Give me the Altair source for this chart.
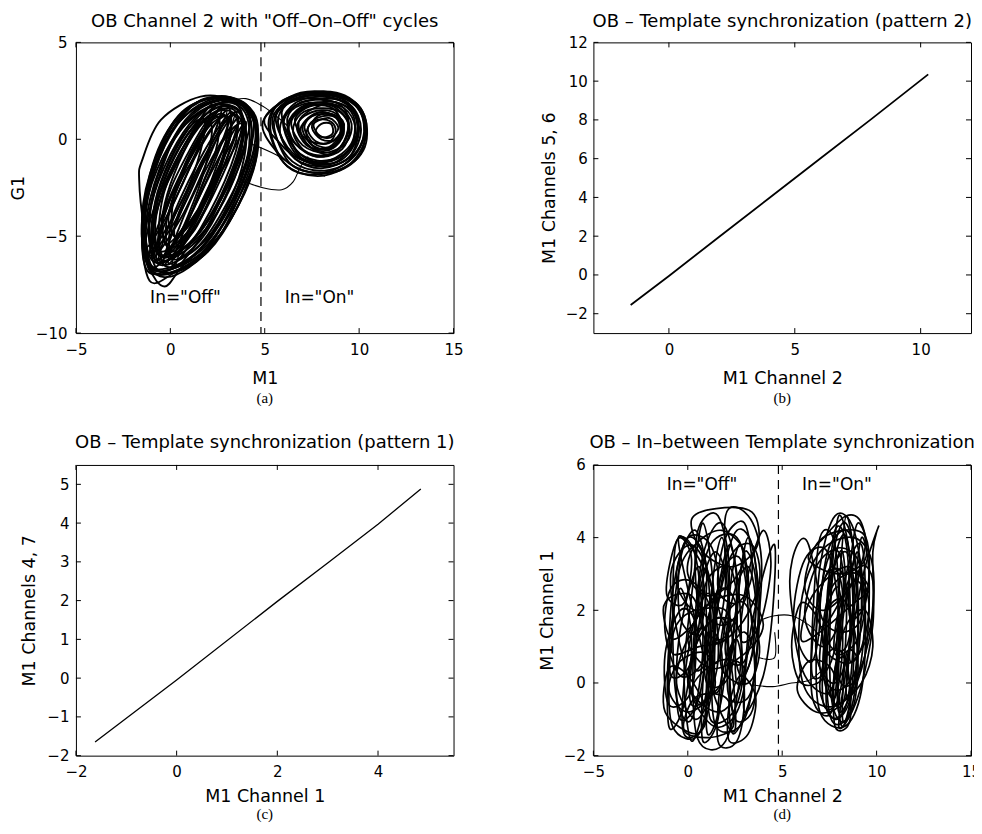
import altair as alt
import pandas as pd

FONT = "DejaVu Sans"
SERIF = "Liberation Serif"
W, H = 378, 291

# ---------------- panel (a) ----------------
A_TITLE = 'OB Channel 2 with "Off–On–Off" cycles'
A_XT = [-5, 0, 5, 10, 15]
A_YT = [-10, -5, 0, 5]
A_LEFT = [
    [(-0.6, -7.0), (1.4, -6.3), (3.2, -4.1), (4.4, -1.6), (4.6, 0.6), (3.4, 2.0), (1.2, 1.8), (-0.5, -0.2), (-1.4, -3.4), (-1.3, -6.2)],
    [(-0.4, -6.8), (1.6, -5.9), (3.3, -3.6), (4.5, -0.9), (4.3, 1.2), (3.0, 2.1), (0.9, 1.3), (-0.7, -0.9), (-1.5, -4.2), (-1.2, -6.3)],
    [(-0.8, -6.9), (1.1, -6.4), (2.9, -4.6), (4.2, -2.0), (4.6, 0.2), (3.8, 1.8), (1.8, 2.1), (0.2, 0.6), (-1.1, -2.2), (-1.5, -5.2)],
    [(-0.3, -6.5), (1.5, -5.5), (3.0, -3.3), (4.1, -0.8), (4.0, 1.3), (2.8, 1.9), (1.0, 1.0), (-0.4, -1.2), (-1.1, -3.8), (-1.0, -5.8)],
    [(-0.2, -6.1), (1.4, -5.0), (2.8, -2.8), (3.8, -0.4), (3.7, 1.4), (2.6, 1.7), (1.2, 0.6), (-0.1, -1.6), (-0.8, -3.8), (-0.8, -5.4)],
    [(0.1, -5.6), (1.4, -4.4), (2.6, -2.2), (3.5, 0.0), (3.4, 1.3), (2.4, 1.4), (1.2, 0.2), (0.2, -1.8), (-0.4, -3.8), (-0.4, -5.0)],
    [(-1.0, -6.6), (0.6, -6.5), (2.4, -5.2), (3.8, -3.0), (4.6, -0.6), (4.2, 1.6), (2.6, 2.2), (0.6, 1.4), (-0.8, -1.0), (-1.5, -4.0)],
    [(-0.5, -6.3), (1.0, -5.4), (2.4, -3.6), (3.6, -1.2), (4.2, 0.8), (3.6, 1.9), (2.0, 1.6), (0.6, 0.0), (-0.6, -2.6), (-1.0, -5.0)],
    [(-0.9, -6.6), (0.5, -5.0), (2.5, -2.0), (3.8, 0.5), (3.4, 1.9), (1.6, 2.2), (-0.5, 1.0), (-1.5, -1.1), (-1.65, -2.1), (-1.4, -4.5)],
    [(-1.1, -7.3), (0.2, -6.9), (2.0, -5.8), (3.5, -3.6), (4.5, -1.0), (4.5, 1.0), (3.6, 2.0), (2.0, 2.0), (0.4, 0.8), (-0.9, -1.8), (-1.5, -4.6)],
    [(-0.3, -7.6), (0.6, -6.6), (2.2, -5.0), (3.6, -2.4), (4.3, 0.2), (3.9, 1.7), (2.4, 2.0), (0.8, 1.0), (-0.6, -1.6), (-1.3, -4.4), (-1.1, -6.6)],
    [(0.4, -5.0), (1.6, -3.6), (2.6, -1.6), (3.2, 0.4), (2.9, 1.2), (2.0, 0.8), (1.0, -0.8), (0.2, -2.8), (-0.1, -4.2)],
    [(-0.6, -6.0), (0.8, -5.6), (2.2, -4.2), (3.4, -2.0), (4.0, 0.2), (3.6, 1.5), (2.4, 1.6), (1.0, 0.4), (-0.3, -2.0), (-0.9, -4.4)],
    [(-0.7, -6.7), (1.2, -6.0), (2.8, -4.0), (4.0, -1.4), (4.4, 1.0), (3.4, 2.0), (1.6, 1.6), (0.0, -0.2), (-1.2, -3.0), (-1.4, -5.6)],
    [(-0.2, -6.9), (1.8, -5.8), (3.4, -3.2), (4.3, -0.4), (4.0, 1.5), (2.8, 1.9), (1.4, 1.2), (0.0, -0.8), (-1.0, -3.4), (-1.0, -6.0)],
    [(-0.9, -6.3), (0.4, -6.0), (1.8, -4.8), (3.0, -2.8), (3.9, -0.6), (3.9, 1.0), (3.0, 1.8), (1.6, 1.4), (0.2, 0.0), (-0.8, -2.6), (-1.3, -4.8)],
    [(0.0, -6.6), (2.0, -5.4), (3.6, -2.8), (4.5, 0.0), (4.1, 1.7), (3.0, 2.0), (1.8, 1.2), (0.6, -0.6), (-0.4, -3.0), (-0.6, -5.6)],
    [(-1.2, -6.8), (-0.2, -6.8), (1.2, -6.0), (2.6, -4.4), (3.8, -2.2), (4.6, 0.0), (4.4, 1.4), (3.2, 2.1), (1.4, 1.9), (-0.2, 0.2), (-1.2, -2.4), (-1.5, -5.2)],
    [(-0.5, -5.8), (0.9, -4.8), (2.0, -3.0), (3.0, -1.0), (3.6, 0.8), (3.2, 1.6), (2.0, 1.2), (0.8, -0.2), (-0.3, -2.4), (-0.8, -4.4)],
    [(-0.4, -7.1), (1.0, -6.6), (2.6, -5.0), (3.8, -2.6), (4.6, -0.2), (4.4, 1.2), (3.6, 2.0), (2.4, 2.2), (0.8, 1.4), (-0.6, -1.0), (-1.3, -3.8), (-1.2, -6.2)],
    [(-0.4, -6.0), (0.6, -5.2), (1.8, -3.2), (2.8, -0.8), (3.0, 1.0), (2.4, 1.2), (1.4, -0.4), (0.2, -2.6), (-0.5, -4.6)],
    [(0.0, -5.8), (1.2, -4.8), (2.2, -2.8), (3.0, -0.4), (3.2, 1.4), (2.6, 1.6), (1.6, 0.2), (0.6, -2.0), (-0.2, -4.2)],
    [(-0.6, -6.4), (0.4, -5.8), (1.4, -4.2), (2.4, -2.0), (3.2, 0.2), (3.0, 1.2), (2.0, 0.6), (0.8, -1.4), (-0.2, -3.6), (-0.7, -5.4)],
    [(0.2, -6.2), (1.6, -5.2), (2.8, -3.2), (3.6, -1.0), (3.8, 0.8), (3.2, 1.2), (2.2, -0.2), (1.0, -2.4), (0.0, -4.6)],
    [(-0.2, -5.4), (0.8, -4.4), (1.6, -2.6), (2.4, -0.6), (2.6, 1.0), (2.0, 1.0), (1.0, -0.6), (0.0, -2.6), (-0.4, -4.2)],
    [(0.6, -5.6), (1.8, -4.4), (3.0, -2.2), (3.8, 0.2), (3.6, 1.4), (2.8, 0.8), (1.8, -1.0), (0.8, -3.0), (0.2, -4.6)],
    [(-0.8, -6.2), (0.2, -5.4), (1.0, -3.8), (1.8, -1.6), (2.2, 0.6), (1.6, 0.8), (0.6, -0.8), (-0.4, -2.8), (-0.9, -4.6)],
    [(0.2, -5.0), (1.4, -3.8), (2.4, -1.8), (3.2, 0.2), (3.0, 1.2), (2.2, 0.6), (1.2, -1.0), (0.2, -3.0)],
    [(-1.0, -5.6), (-0.2, -4.6), (0.8, -2.8), (1.6, -0.6), (1.8, 1.0), (1.0, 0.6), (0.0, -1.0), (-0.8, -3.2)],
    [(0.8, -6.0), (2.2, -4.8), (3.4, -2.6), (4.0, -0.4), (3.8, 0.8), (3.0, 0.2), (2.0, -1.6), (1.2, -3.6), (0.6, -5.0)],
    [(-0.6, -6.2), (0.9, -4.2), (2.4, -1.0), (3.2, 1.4), (1.8, -0.6), (0.2, -3.8)],
    [(-0.1, -6.4), (1.4, -4.4), (2.9, -1.2), (3.6, 1.1), (2.3, -0.8), (0.7, -4.0)],
    [(-1.1, -6.0), (0.4, -4.0), (1.9, -0.8), (2.7, 1.6), (1.3, -0.4), (-0.3, -3.6)],
    [(0.3, -6.6), (1.9, -4.6), (3.4, -1.4), (4.0, 0.9), (2.8, -1.0), (1.2, -4.2)],
    [(-1.3, -5.6), (-0.1, -3.8), (1.4, -0.6), (2.2, 1.8), (0.8, -0.2), (-0.8, -3.4)],
    [(-0.4, -6.5), (1.2, -4.4), (2.6, -1.0), (3.4, 1.3), (2.1, -0.6), (0.5, -3.9)],
    [(-0.9, -6.1), (0.6, -4.0), (2.1, -0.8), (3.0, 1.5), (1.6, -0.4), (0.0, -3.7)],
    [(0.1, -6.5), (1.6, -4.6), (3.2, -1.4), (3.8, 1.0), (2.6, -0.9), (1.0, -4.1)],
]
A_RIGHT = [
    [(5.2, 0.8), (6.0, -1.2), (7.8, -1.9), (9.6, -1.2), (10.4, 0.4), (9.8, 1.9), (7.8, 2.4), (6.0, 2.0)],
    [(5.5, 0.6), (6.4, -1.3), (8.2, -1.7), (9.8, -0.8), (10.3, 0.8), (9.4, 2.1), (7.4, 2.3), (5.9, 1.7)],
    [(5.8, 0.4), (6.6, -1.0), (8.0, -1.5), (9.5, -0.9), (10.1, 0.5), (9.5, 1.8), (7.8, 2.2), (6.4, 1.7)],
    [(6.2, 0.5), (6.9, -0.8), (8.2, -1.2), (9.4, -0.6), (9.8, 0.6), (9.2, 1.6), (7.8, 1.9), (6.7, 1.5)],
    [(6.5, 0.4), (7.1, -0.6), (8.1, -0.9), (9.1, -0.5), (9.5, 0.5), (9.0, 1.4), (7.9, 1.6), (6.9, 1.3)],
    [(6.9, 0.4), (7.4, -0.4), (8.2, -0.6), (8.9, -0.2), (9.1, 0.6), (8.7, 1.2), (7.9, 1.3), (7.2, 1.0)],
    [(7.3, 0.4), (7.7, -0.1), (8.3, -0.2), (8.7, 0.2), (8.7, 0.7), (8.3, 1.0), (7.8, 1.0), (7.4, 0.8)],
    [(5.4, 1.0), (6.2, -0.9), (7.6, -1.6), (9.2, -1.3), (10.2, 0.0), (10.0, 1.5), (8.6, 2.3), (6.6, 2.2)],
    [(6.0, 0.9), (6.6, -0.5), (7.8, -1.1), (9.2, -0.8), (9.9, 0.3), (9.6, 1.5), (8.3, 2.0), (6.9, 1.9)],
    [(6.4, 0.8), (7.0, -0.3), (8.2, -0.7), (9.3, -0.2), (9.6, 0.8), (9.0, 1.6), (7.8, 1.8), (6.9, 1.5)],
    [(4.9, 0.9), (5.6, -0.6), (7.0, -1.6), (9.0, -1.6), (10.3, -0.4), (10.2, 1.4), (8.8, 2.4), (6.5, 2.2)],
    [(5.0, 1.1), (5.8, -0.2), (6.8, -1.0), (8.4, -1.4), (9.9, -0.6), (10.3, 0.9), (9.2, 2.2), (6.9, 2.4)],
    [(5.6, 1.2), (6.2, -0.4), (7.4, -1.2), (9.0, -1.1), (9.9, 0.1), (9.7, 1.5), (8.4, 2.2), (6.8, 2.1)],
    [(6.7, 0.6), (7.2, -0.3), (8.0, -0.5), (8.8, -0.2), (9.2, 0.6), (8.8, 1.3), (8.0, 1.5), (7.1, 1.2)],
    [(6.0, 0.6), (6.8, -0.9), (8.4, -1.3), (9.6, -0.4), (9.9, 1.0), (9.0, 2.0), (7.4, 2.0), (6.3, 1.5)],
    [(7.1, 0.6), (7.6, -0.2), (8.4, -0.4), (9.0, 0.3), (8.9, 1.0), (8.2, 1.4), (7.5, 1.2)],
    [(5.9, 1.4), (6.4, 0.0), (7.6, -0.8), (8.8, -0.6), (9.4, 0.4), (9.2, 1.6), (8.0, 2.1), (6.6, 2.0)],
    [(6.6, 1.0), (7.2, 0.0), (8.4, -0.2), (9.1, 0.6), (8.6, 1.6), (7.4, 1.7)],
    [(5.3, 0.5), (6.2, -1.4), (8.0, -1.8), (9.9, -1.0), (10.3, 0.6), (9.6, 2.0), (7.6, 2.4), (5.8, 1.9)],
    [(5.7, 0.9), (6.4, -0.8), (7.8, -1.4), (9.4, -1.0), (10.0, 0.6), (9.4, 1.9), (8.0, 2.3), (6.4, 2.0)],
    [(6.3, 0.2), (7.0, -1.0), (8.4, -1.1), (9.6, -0.2), (9.7, 1.2), (8.8, 1.9), (7.4, 1.8), (6.5, 1.2)],
    [(6.8, 0.9), (7.2, -0.2), (8.4, -0.8), (9.3, 0.0), (9.4, 1.1), (8.6, 1.8), (7.6, 1.6)],
    [(7.5, 0.6), (8.0, 0.0), (8.8, 0.0), (9.2, 0.8), (8.6, 1.3), (7.8, 1.2)],
    [(7.7, 0.4), (8.1, 0.1), (8.6, 0.3), (8.5, 0.8), (8.0, 0.8)],
    [(7.0, 0.5), (7.5, -0.3), (8.4, -0.5), (9.0, 0.2), (8.8, 1.1), (8.0, 1.4), (7.3, 1.1)],
    [(7.6, 0.8), (7.9, 0.2), (8.5, 0.1), (8.9, 0.6), (8.4, 1.1)],
    [(7.2, 0.2), (7.8, -0.5), (8.8, -0.3), (9.2, 0.5), (8.6, 1.2), (7.6, 1.0)],
    [(6.2, 1.1), (6.6, -0.2), (7.8, -0.9), (9.0, -0.4), (9.4, 0.9), (8.4, 1.8), (7.0, 1.8)],
]
A_LINKS = [
    [(3.0, 1.95), (4.0, 2.1), (4.9, 1.7), (5.6, 1.2), (6.2, 0.7)],
    [(3.7, -2.1), (4.9, -2.5), (5.9, -2.6), (6.5, -2.2), (6.9, -1.4), (7.3, -0.9)],
    [(4.2, -0.2), (5.6, -0.8), (6.6, -1.4), (7.4, -1.7), (8.2, -1.9)],
]
A_DASH = [4.8]
A_LABEL_X = [0.8, 7.9]
A_LABEL_Y = [-8.2, -8.2]
A_LABELS = ['In="Off"', 'In="On"']

# ---------------- panel (b) ----------------
B_TITLE = "OB – Template synchronization (pattern 2)"
B_XT = [0, 5, 10]
B_YT = [-2, 0, 2, 4, 6, 8, 10, 12]
B_X = [-1.52, 0.0, 2.0, 4.0, 6.0, 8.0, 10.3]
B_Y = [-1.55, -0.05, 1.97, 3.98, 6.0, 8.0, 10.35]

# ---------------- panel (c) ----------------
C_TITLE = "OB – Template synchronization (pattern 1)"
C_XT = [-2, 0, 2, 4]
C_YT = [-2, -1, 0, 1, 2, 3, 4, 5]
C_X = [-1.62, 0.0, 2.0, 3.0, 4.0, 4.85]
C_Y = [-1.65, -0.05, 1.98, 2.97, 3.97, 4.88]

# ---------------- panel (d) ----------------
D_TITLE = "OB – In–between Template synchronization"
D_XT = [-5, 0, 5, 10, 15]
D_YT = [-2, 0, 2, 4, 6]
D_LEFT = [
    [(-0.8, -1.2), (0.6, -1.4), (1.2, 0.5), (1.0, 3.2), (0.0, 4.0), (-0.8, 2.5), (-1.0, 0.5)],
    [(0.5, -1.5), (2.0, -1.6), (2.8, 0.5), (2.6, 3.0), (1.8, 4.4), (0.8, 3.5), (0.3, 1.0)],
    [(1.5, -1.2), (3.0, -1.0), (3.7, 1.2), (3.5, 3.6), (2.6, 4.2), (1.8, 2.8), (1.3, 0.5)],
    [(-0.5, 4.0), (0.5, 1.5), (1.5, -0.5), (2.5, -1.3), (2.2, 0.8), (1.0, 3.0)],
    [(0.2, 4.5), (1.5, 4.8), (3.4, 4.7), (3.7, 3.8), (2.4, 3.2), (0.8, 3.6)],
    [(-1.3, 2.0), (-0.8, 1.2), (0.5, 1.8), (0.2, 2.4), (-0.8, 2.4)],
    [(-1.0, -0.2), (0.0, -0.8), (1.4, -0.2), (1.0, 0.8), (-0.4, 0.6)],
    [(2.0, 4.6), (3.2, 4.6), (3.9, 3.4), (3.6, 1.2), (2.8, 0.2), (2.2, 2.0)],
    [(3.0, -0.8), (4.0, 0.2), (4.5, 2.0), (4.6, 3.8), (3.9, 2.8), (3.2, 1.0)],
    [(-0.6, 3.9), (0.4, 3.5), (0.8, 1.0), (0.2, -1.0), (-0.6, -0.4), (-0.8, 1.8)],
    [(1.0, -1.3), (1.8, -0.4), (2.2, 2.2), (1.8, 4.0), (1.2, 2.2)],
    [(0.0, 1.2), (1.2, 0.4), (3.0, 0.8), (4.0, 1.6), (3.0, 2.4), (1.2, 2.2)],
    [(-0.2, -1.3), (1.2, -1.5), (2.4, -1.2), (2.0, -0.4), (0.4, -0.4)],
    [(2.5, -1.0), (3.5, -0.6), (3.4, 1.6), (2.8, 3.8), (2.2, 2.4), (2.2, 0.4)],
    [(0.6, 4.3), (1.6, 4.6), (2.2, 3.0), (1.6, 0.6), (0.8, 1.4), (0.4, 3.0)],
    [(-0.9, 0.2), (0.2, 0.6), (0.8, 2.6), (0.6, 3.8), (-0.4, 3.2), (-0.8, 1.6)],
    [(1.4, 1.2), (2.8, 1.6), (3.8, 2.8), (3.4, 3.8), (2.2, 3.4)],
    [(0.2, -0.6), (1.8, 0.0), (2.4, 1.2), (1.6, 1.8), (0.4, 1.0)],
    [(-1.2, -0.8), (0.4, -1.4), (1.0, -0.8), (0.0, 0.2), (-1.0, 0.4)],
    [(2.2, -1.6), (3.2, -1.4), (3.6, -0.4), (2.8, 0.2), (2.2, -0.6)],
    [(-0.6, 2.8), (0.4, 2.0), (1.6, 2.6), (1.2, 3.8), (0.0, 4.0)],
    [(1.8, 0.4), (3.2, 0.0), (3.8, 1.0), (3.0, 2.2), (2.0, 1.8)],
    [(-1.0, -1.2), (-0.2, -0.6), (0.2, 1.2), (-0.4, 2.6), (-1.0, 1.0)],
    [(2.4, -1.4), (3.4, -0.2), (3.8, 2.2), (3.2, 4.0), (2.6, 2.2), (2.2, 0.0)],
    [(0.2, -1.6), (1.0, -0.2), (1.4, 2.2), (0.8, 4.4), (0.2, 2.4), (-0.2, 0.2)],
    [(-0.9, 3.0), (-0.4, 1.0), (0.6, -0.6), (1.6, 0.6), (1.2, 2.8), (0.2, 3.8)],
    [(1.2, -1.0), (2.6, -0.6), (3.2, 1.6), (2.8, 3.4), (1.8, 3.0), (1.2, 1.0)],
    [(0.0, 0.0), (1.6, -0.8), (2.8, 0.0), (2.6, 1.6), (1.0, 1.6)],
    [(-1.2, 1.4), (-0.4, 0.2), (0.8, 0.6), (1.2, 2.0), (0.2, 2.8), (-0.9, 2.6)],
    [(2.8, 1.2), (3.8, 1.6), (4.4, 3.2), (4.0, 4.2), (3.2, 3.0)],
    [(0.6, 2.2), (2.0, 1.6), (3.2, 2.6), (2.6, 4.0), (1.2, 3.8)],
    [(-0.2, -1.4), (0.8, -1.2), (1.4, 0.4), (1.2, 2.4), (0.4, 1.8), (-0.2, 0.0)],
    [(1.6, -1.6), (2.6, -1.6), (3.0, -0.4), (2.6, 1.2), (1.8, 0.2)],
    [(0.4, 0.4), (1.4, 1.0), (2.0, 2.8), (1.4, 3.6), (0.6, 2.4)],
    [(2.0, 0.8), (3.0, 0.6), (3.6, 2.0), (3.2, 3.2), (2.4, 2.4)],
    [(-1.0, -0.6), (0.2, -0.2), (0.4, 1.6), (-0.4, 2.0), (-1.2, 0.8)],
    [(1.0, 0.0), (2.2, 0.2), (2.6, 2.0), (1.8, 2.6), (1.0, 1.6)],
    [(-0.4, -1.0), (0.6, -0.4), (1.0, 1.6), (0.6, 3.2), (-0.2, 2.0), (-0.6, 0.4)],
    [(1.4, -0.2), (2.2, 0.6), (2.6, 2.6), (2.2, 3.8), (1.6, 2.4)],
    [(2.6, 0.0), (3.4, 0.8), (3.6, 2.8), (3.0, 3.6), (2.6, 1.8)],
    [(-0.8, 0.8), (0.6, 1.0), (2.0, 1.2), (2.0, 2.0), (0.4, 2.0), (-0.6, 1.6)],
    [(0.2, -0.2), (1.4, -1.2), (2.6, -0.8), (3.0, 0.4), (1.6, 0.6)],
    [(0.0, 3.0), (1.0, 2.4), (2.4, 2.8), (3.0, 3.6), (1.8, 4.2), (0.4, 3.8)],
    [(0.8, -1.6), (1.6, -1.0), (1.8, 0.8), (1.2, 1.4), (0.8, 0.0)],
    [(-1.1, 2.4), (-0.2, 2.2), (0.2, 3.4), (-0.4, 4.0), (-0.9, 3.4)],
    [(-0.6, 0.0), (0.4, -1.0), (1.2, -0.2), (1.0, 1.4), (0.0, 1.2)],
    [(0.8, 1.6), (1.8, 1.2), (2.6, 2.0), (2.2, 3.2), (1.0, 2.8)],
    [(1.6, 2.6), (2.6, 2.2), (3.4, 3.0), (3.0, 4.4), (2.0, 4.0)],
    [(-0.4, 1.8), (0.6, 1.4), (1.0, 3.0), (0.4, 4.2), (-0.4, 3.4)],
    [(2.2, -0.4), (3.2, -0.4), (3.6, 0.6), (3.0, 1.4), (2.2, 0.8)],
]
D_RIGHT = [
    [(7.0, -0.8), (8.3, -1.2), (9.2, -0.2), (9.4, 2.0), (8.8, 4.2), (7.8, 4.6), (7.0, 3.2), (6.8, 1.0)],
    [(7.6, -1.0), (8.6, -0.8), (9.0, 1.0), (8.8, 3.6), (8.2, 4.4), (7.5, 3.0), (7.3, 0.8)],
    [(6.0, 0.2), (7.0, -0.6), (8.4, -0.4), (9.6, 1.2), (9.8, 3.2), (8.8, 4.0), (7.0, 3.6), (6.0, 2.2)],
    [(5.6, 1.8), (6.2, 0.2), (7.6, -0.2), (8.0, 1.8), (7.4, 3.6), (6.2, 3.4)],
    [(8.0, -1.2), (9.0, -0.4), (9.8, 1.6), (9.8, 3.6), (10.1, 4.3), (9.3, 3.0), (8.6, 1.0)],
    [(7.4, 0.0), (8.2, -0.6), (8.6, 1.4), (8.4, 3.8), (7.8, 4.2), (7.4, 2.2)],
    [(5.8, -0.2), (6.8, -0.8), (8.0, -0.6), (7.6, 0.4), (6.4, 0.6)],
    [(6.4, 3.4), (7.2, 4.0), (8.4, 4.6), (9.2, 4.4), (9.4, 3.4), (8.0, 3.0)],
    [(7.2, 1.0), (8.8, 0.6), (9.6, 2.0), (9.0, 3.0), (7.6, 2.6)],
    [(5.4, 2.8), (5.8, 1.2), (6.6, 0.6), (7.0, 2.0), (6.4, 3.8), (5.8, 3.8)],
    [(8.2, -1.2), (8.9, 0.4), (9.0, 2.6), (8.4, 4.6), (8.0, 2.4), (7.9, 0.2)],
    [(6.6, -0.4), (7.6, -0.8), (8.0, 1.2), (7.8, 3.8), (7.0, 4.0), (6.6, 1.6)],
    [(7.8, -0.6), (9.2, 0.0), (9.8, 1.0), (9.4, 2.0), (8.4, 1.6), (7.8, 0.4)],
    [(6.0, 1.2), (7.0, 1.4), (8.8, 2.2), (9.6, 2.6), (8.4, 3.2), (6.6, 2.4)],
    [(7.0, 0.4), (8.0, -0.2), (9.0, 0.6), (8.4, 2.2), (7.4, 2.0)],
    [(8.4, -0.4), (9.4, 0.8), (9.6, 3.0), (9.2, 4.0), (8.8, 2.4)],
    [(7.6, -0.4), (8.4, -1.0), (8.8, 0.8), (8.6, 3.4), (8.0, 4.6), (7.6, 2.6)],
    [(6.2, 2.6), (7.2, 2.0), (8.8, 2.8), (9.4, 4.0), (8.2, 4.2), (6.8, 3.8)],
    [(5.5, 1.0), (6.0, 0.0), (7.2, 0.2), (7.0, 1.6), (6.0, 2.2)],
    [(7.4, -0.8), (8.4, -0.6), (8.8, 1.8), (8.4, 4.0), (7.8, 3.4), (7.4, 1.0)],
    [(6.8, 0.8), (7.8, 0.0), (8.6, 1.2), (8.2, 3.0), (7.2, 2.8)],
    [(8.0, 0.2), (9.0, 0.2), (9.4, 2.0), (9.2, 3.8), (8.4, 3.0)],
    [(6.2, 1.8), (7.2, 1.0), (8.2, 2.0), (8.0, 3.6), (6.8, 3.2)],
    [(7.8, -1.2), (8.6, -1.0), (8.4, 0.6), (7.8, 0.4)],
    [(7.0, 2.0), (8.0, 1.4), (9.2, 1.8), (9.0, 3.4), (7.6, 3.6)],
    [(7.2, 0.2), (7.8, -0.4), (8.2, 1.0), (8.0, 2.6), (7.4, 2.0)],
    [(8.6, 0.6), (9.6, 1.4), (9.8, 2.8), (9.2, 3.2), (8.8, 2.0)],
    [(7.2, -0.6), (8.0, -0.4), (8.4, 1.6), (8.2, 3.6), (7.6, 2.8), (7.2, 1.0)],
    [(8.0, -0.8), (8.8, 0.0), (9.2, 2.0), (9.0, 3.6), (8.4, 2.4), (8.0, 0.6)],
    [(7.0, 1.6), (8.0, 2.2), (8.8, 3.4), (8.4, 4.2), (7.4, 3.6)],
    [(6.6, 0.2), (7.6, 0.6), (8.2, 2.4), (7.6, 3.2), (6.8, 2.0)],
    [(7.8, 0.8), (9.0, 1.2), (9.4, 2.4), (8.8, 2.8), (8.0, 2.0)],
    [(8.2, -1.0), (8.8, -0.6), (9.0, 0.6), (8.4, 0.8)],
    [(7.4, 1.2), (8.4, 1.0), (8.8, 2.6), (8.4, 3.6), (7.6, 3.0)],
    [(8.6, 1.8), (9.4, 2.2), (9.6, 3.6), (9.0, 4.4), (8.6, 3.2)],
    [(7.0, -0.2), (7.8, -1.0), (8.6, -0.4), (8.2, 0.8), (7.4, 0.8)],
]
D_LINKS = [
    [(3.4, -0.05), (4.5, -0.1), (5.5, 0.0), (6.4, 0.07), (7.0, 0.3)],
    [(3.7, 1.7), (4.6, 1.85), (5.5, 1.85), (6.4, 1.6), (7.0, 1.3)],
    [(3.75, 0.7), (4.6, 0.7), (4.6, 1.4)],
]
D_DASH = [4.8]
D_LABEL_X = [0.75, 7.9]
D_LABEL_Y = [5.45, 5.45]
D_LABELS = ['In="Off"', 'In="On"']

SUBCAPTIONS = ["(a)", "(b)", "(c)", "(d)"]


def loops_frame(loops):
    rows = []
    for i, loop in enumerate(loops):
        for j, (x, y) in enumerate(loop):
            rows.append({"x": x, "y": y, "g": i, "o": j})
    return pd.DataFrame(rows)


def make_panel(title, xdom, ydom, xt, yt, xtitle, ytitle, ylpad, ytpad, sub, content,
               ty=-16, sy_off=65, xtpad=10):
    sx = alt.Scale(domain=xdom, nice=False, zero=False)
    sy = alt.Scale(domain=ydom, nice=False, zero=False)
    ax = alt.Axis(values=xt, ticks=False, domain=False, grid=False, labelFlush=False,
                  labelOverlap=False, labelFont=FONT, labelFontSize=15, labelColor="black",
                  labelPadding=9, title=xtitle, titleFont=FONT, titleFontSize=17.5,
                  titleFontWeight="normal", titleColor="black", titlePadding=xtpad)
    ay = alt.Axis(values=yt, ticks=False, domain=False, grid=False, labelFlush=False,
                  labelOverlap=False, labelFont=FONT, labelFontSize=15, labelColor="black",
                  labelPadding=ylpad, title=ytitle, titleFont=FONT, titleFontSize=17.5,
                  titleFontWeight="normal", titleColor="black", titlePadding=ytpad)

    def X(f):
        return alt.X(f, type="quantitative", scale=sx, axis=ax)

    def Y(f):
        return alt.Y(f, type="quantitative", scale=sy, axis=ay)

    layers = [
        alt.Chart(pd.DataFrame({"x": xdom, "y": ydom})).mark_point(opacity=0, size=1).encode(x=X("x"), y=Y("y"))
    ]
    for kind, df, opts in content:
        if kind == "loops":
            layers.append(alt.Chart(df).mark_line(interpolate="cardinal-closed", color="black",
                                                  strokeWidth=opts.get("sw", 1.1)).encode(
                x=X("x"), y=Y("y"), detail="g:N", order="o:Q"))
        elif kind == "curves":
            layers.append(alt.Chart(df).mark_line(interpolate=opts.get("interp", "cardinal"), color="black",
                                                  strokeWidth=opts.get("sw", 1.1)).encode(
                x=X("x"), y=Y("y"), detail="g:N", order="o:Q"))
        elif kind == "dash":
            layers.append(alt.Chart(df).mark_rule(color="black", strokeWidth=1.2, strokeDash=[9, 6]).encode(
                x=X("x")))
        elif kind == "text":
            layers.append(alt.Chart(df).mark_text(font=FONT, fontSize=17, color="black").encode(
                x=X("x"), y=Y("y"), text="t:N"))
    # inward ticks on all four sides
    xtd = pd.DataFrame({"x": xt})
    ytd = pd.DataFrame({"y": yt})
    for y0, y1 in ((H, H - 5), (0, 5)):
        layers.append(alt.Chart(xtd).mark_rule(color="black", strokeWidth=1).encode(
            x=X("x"), y=alt.value(y0), y2=alt.value(y1)))
    for x0, x1 in ((0, 5), (W, W - 5)):
        layers.append(alt.Chart(ytd).mark_rule(color="black", strokeWidth=1).encode(
            y=Y("y"), x=alt.value(x0), x2=alt.value(x1)))
    # panel title above the frame
    layers.append(alt.Chart(pd.DataFrame({"c": [title]})).mark_text(
        font=FONT, fontSize=18, color="black", baseline="alphabetic").encode(
        x=alt.value(W / 2), y=alt.value(ty), text="c:N"))
    # sub caption below
    layers.append(alt.Chart(pd.DataFrame({"c": [sub]})).mark_text(
        font=SERIF, fontSize=15, color="black").encode(
        x=alt.value(W / 2), y=alt.value(H + sy_off), text="c:N"))
    return alt.layer(*layers).properties(
        width=W, height=H, view=alt.ViewBackground(stroke="black", strokeWidth=1))


pa = make_panel(A_TITLE, [-5, 15], [-10, 5], A_XT, A_YT, "M1", "G1", 9, 8, SUBCAPTIONS[0], [
    ("loops", loops_frame(A_LEFT), {"sw": 1.9}),
    ("loops", loops_frame(A_RIGHT), {"sw": 1.9}),
    ("curves", loops_frame(A_LINKS), {"sw": 1.1}),
    ("dash", pd.DataFrame({"x": A_DASH}), {}),
    ("text", pd.DataFrame({"x": A_LABEL_X, "y": A_LABEL_Y, "t": A_LABELS}), {}),
], ty=-15, xtpad=12)
pb = make_panel(B_TITLE, [-3, 12], [-3, 12], B_XT, B_YT, "M1 Channel 2", "M1 Channels 5, 6", 6, 7,
                SUBCAPTIONS[1], [
    ("curves", pd.DataFrame({"x": B_X, "y": B_Y, "g": 0, "o": range(len(B_X))}), {"sw": 1.8, "interp": "linear"}),
], ty=-15, xtpad=12)
pc = make_panel(C_TITLE, [-2, 5.5], [-2, 5.5], C_XT, C_YT, "M1 Channel 1", "M1 Channels 4, 7", 7, 8,
                SUBCAPTIONS[2], [
    ("curves", pd.DataFrame({"x": C_X, "y": C_Y, "g": 0, "o": range(len(C_X))}), {"sw": 1.3, "interp": "linear"}),
], ty=-17, sy_off=58, xtpad=8)
pd_ = make_panel(D_TITLE, [-5, 15], [-2, 6], D_XT, D_YT, "M1 Channel 2", "M1 Channel 1", 8, 7,
                 SUBCAPTIONS[3], [
    ("loops", loops_frame(D_LEFT), {"sw": 1.7}),
    ("loops", loops_frame(D_RIGHT), {"sw": 1.7}),
    ("curves", loops_frame(D_LINKS), {"sw": 1.1}),
    ("dash", pd.DataFrame({"x": D_DASH}), {}),
    ("text", pd.DataFrame({"x": D_LABEL_X, "y": D_LABEL_Y, "t": D_LABELS}), {}),
], ty=-17, sy_off=58, xtpad=8)

chart = alt.concat(pa, pb, pc, pd_, columns=2, spacing={"row": 132, "column": 140},
                   bounds="flush").properties(
    padding={"left": 0, "top": 4, "right": -8, "bottom": 0}, background="white"
).configure_view(stroke="black", strokeWidth=1)

chart.save("out.html", embed_options={"renderer": "svg", "actions": False})
